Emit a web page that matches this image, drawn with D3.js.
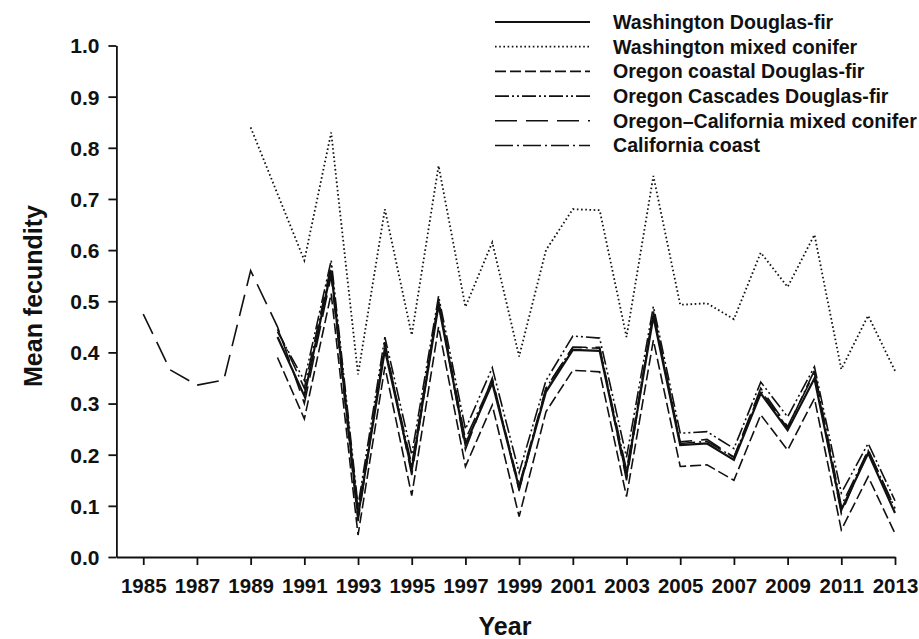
<!DOCTYPE html>
<html>
<head>
<meta charset="utf-8">
<script src="https://cdn.jsdelivr.net/npm/d3@7"></script>
<style>
  body { margin: 0; background: #fff; }
  svg text { font-family: "Liberation Sans", Arial, sans-serif; font-weight: bold; fill: #111; }
</style>
</head>
<body>
<div id="chart"></div>
<script>
var years = d3.range(1985, 2014);

// values per year, null = no data
var waDouglas   = [null,null,null,null,null, 0.43,0.315,0.56,0.08,0.405,0.17,0.493,0.22,0.34,0.135,0.323,0.405,0.403,0.16,0.47,0.219,0.222,0.19,0.32,0.248,0.349,0.092,0.203,0.086];
var waMixed     = [null,null,null,null,0.84, 0.71,0.58,0.83,0.357,0.68,0.434,0.765,0.489,0.615,0.392,0.60,0.68,0.678,0.43,0.745,0.493,0.496,0.465,0.595,0.528,0.63,0.367,0.472,0.364];
var orCoastal   = [null,null,null,null,null, 0.39,0.27,0.515,0.043,0.372,0.12,0.45,0.177,0.297,0.079,0.284,0.365,0.362,0.118,0.424,0.177,0.18,0.15,0.278,0.209,0.31,0.053,0.157,0.046];
var orCascades  = [null,null,null,null,null, 0.44,0.345,0.58,0.10,0.43,0.20,0.51,0.25,0.37,0.165,0.345,0.432,0.428,0.195,0.49,0.242,0.245,0.212,0.342,0.274,0.372,0.125,0.222,0.11];
var orCaMixed   = [0.475,0.366,0.336,0.346,0.56, 0.45,0.30,0.55,0.07,0.42,0.16,0.50,0.21,0.35,0.13,0.33,0.41,0.41,0.15,0.48,0.225,0.23,0.195,0.33,0.255,0.36,0.085,0.21,0.095];
var caCoast     = [null,null,null,null,null, 0.445,0.33,0.57,0.09,0.41,0.18,0.50,0.23,0.345,0.14,0.33,0.41,0.408,0.17,0.475,0.222,0.226,0.195,0.325,0.252,0.365,0.10,0.208,0.095];

var seriesNames = ["Washington Douglas-fir", "Washington mixed conifer", "Oregon coastal Douglas-fir",
                   "Oregon Cascades Douglas-fir", "Oregon\u2013California mixed conifer", "California coast"];
var seriesValues = [waDouglas, waMixed, orCoastal, orCascades, orCaMixed, caCoast];
var seriesDash = [null, "1.6,2.6", "11,4", "14,3,2,3,2,3", "22,9", "18,4,2,4"];
var seriesWidth = [2.2, 1.8, 1.6, 1.6, 1.6, 1.6];

var yTicks = d3.range(0, 11).map(function(i) { return i / 10; });
var xTicks = d3.range(1985, 2014, 2);

var width = 919, height = 639;

var svg = d3.select("#chart").append("svg")
    .attr("width", width)
    .attr("height", height);

var x = d3.scaleLinear().domain([1984, 2013]).range([116.4, 895]);
var y = d3.scaleLinear().domain([0, 1]).range([557, 45.5]);

// axes
var xAxis = svg.append("g")
    .attr("transform", "translate(0," + y(0) + ")")
    .call(d3.axisBottom(x).tickValues(xTicks).tickFormat(d3.format("d")).tickSize(8).tickSizeOuter(0).tickPadding(13));

var yAxis = svg.append("g")
    .attr("transform", "translate(" + x(1984) + ",0)")
    .call(d3.axisLeft(y).tickValues(yTicks).tickFormat(d3.format(".1f")).tickSize(8).tickSizeOuter(0).tickPadding(9));

svg.selectAll(".domain, .tick line").attr("stroke", "#111").attr("stroke-width", 1.8);
xAxis.selectAll("text").style("font-size", "20.5px");
yAxis.selectAll("text").style("font-size", "21px").attr("dy", "0.35em");

// lines
var line = d3.line()
    .defined(function(d) { return d.v != null; })
    .x(function(d) { return x(d.year); })
    .y(function(d) { return y(d.v); });

var drawOrder = [1, 2, 4, 5, 3, 0];
drawOrder.forEach(function(i) {
    var pts = years.map(function(yr, j) { return { year: yr, v: seriesValues[i][j] }; });
    svg.append("path")
        .datum(pts)
        .attr("fill", "none")
        .attr("stroke", "#111")
        .attr("stroke-width", seriesWidth[i])
        .attr("stroke-dasharray", seriesDash[i])
        .attr("stroke-linejoin", "miter")
        .attr("d", line);
});

// legend
var legend = svg.append("g").attr("transform", "translate(495,22)");
seriesNames.forEach(function(name, i) {
    var row = legend.append("g").attr("transform", "translate(0," + (i * 24.7) + ")");
    row.append("line")
        .attr("x1", 0).attr("x2", 95)
        .attr("y1", 0).attr("y2", 0)
        .attr("stroke", "#111")
        .attr("stroke-width", seriesWidth[i])
        .attr("stroke-dasharray", seriesDash[i]);
    row.append("text")
        .attr("x", 118)
        .attr("y", 0)
        .attr("dy", "0.35em")
        .style("font-size", "19.6px")
        .text(name);
});

// axis titles
svg.append("text")
    .attr("transform", "translate(42,296) rotate(-90)")
    .attr("text-anchor", "middle")
    .style("font-size", "25px")
    .text("Mean fecundity");

svg.append("text")
    .attr("x", 505)
    .attr("y", 635)
    .attr("text-anchor", "middle")
    .style("font-size", "25px")
    .text("Year");
</script>
</body>
</html>
